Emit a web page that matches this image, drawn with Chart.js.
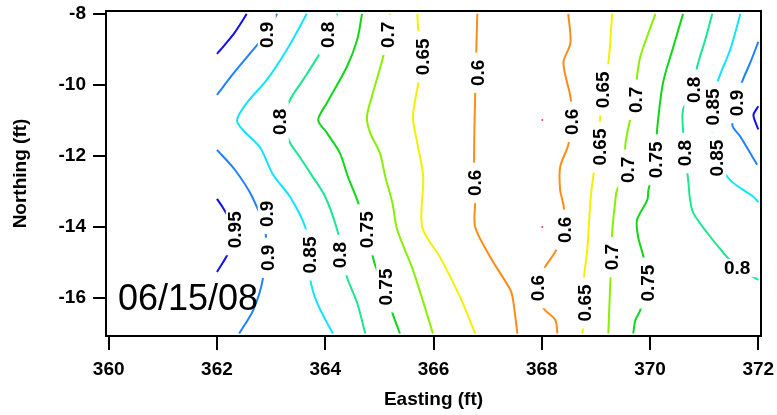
<!DOCTYPE html>
<html>
<head>
<meta charset="utf-8">
<script src="https://cdn.jsdelivr.net/npm/chart.js@4"></script>
<style>
  html, body { margin: 0; padding: 0; background: #fff; }
</style>
</head>
<body>
<canvas id="c" width="777" height="415"></canvas>
<script>
// axis ticks
const xTicks = [360, 362, 364, 366, 368, 370, 372];
const yTicks = [-8, -10, -12, -14, -16];

// contour lines, [easting, northing]
const c095a = [[362.0,-9.13],[362.15,-8.86],[362.33,-8.52],[362.55,-8.0]];
const c095b = [[362.0,-13.21],[362.11,-13.46],[362.25,-13.85],[362.30,-14.2],[362.25,-14.55],[362.18,-14.82],[362.0,-15.27]];
const c095c = [[372.0,-10.6],[371.98,-10.65],[371.91,-10.85],[371.98,-11.18],[372.0,-11.25]];
const c090a = [[362.0,-10.28],[362.33,-9.63],[362.67,-9.01],[362.92,-8.54],[363.11,-8.0]];
const c090b = [[362.0,-11.83],[362.33,-12.39],[362.65,-13.15],[362.90,-14.2],[362.85,-15.44],[362.67,-16.34],[362.41,-17.0]];
const c090c = [[372.0,-8.79],[371.85,-9.38],[371.70,-9.92],[371.61,-10.51],[371.52,-11.13],[371.67,-11.46],[371.98,-12.25]];
const c085a = [[363.66,-8.0],[363.29,-9.01],[362.92,-9.86],[362.55,-10.51],[362.37,-10.99],[362.48,-11.27],[362.79,-11.75],[363.04,-12.54],[363.35,-13.15],[363.63,-14.0],[363.72,-14.79],[363.72,-15.44],[363.85,-16.14],[364.14,-17.0]];
const c085b = [[371.67,-8.0],[371.48,-9.01],[371.26,-9.86],[371.15,-10.62],[371.15,-11.35],[371.24,-12.06],[371.48,-12.68],[371.91,-13.15],[372.0,-13.3]];
const c080a = [[364.22,-8.0],[364.09,-8.59],[363.85,-9.24],[363.59,-9.86],[363.35,-10.42],[363.22,-11.04],[363.35,-11.63],[363.53,-12.03],[363.77,-12.59],[364.0,-13.15],[364.22,-14.08],[364.31,-14.79],[364.40,-15.41],[364.59,-16.14],[364.74,-17.0]];
const c080b = [[371.15,-8.0],[371.02,-8.73],[370.87,-9.49],[370.80,-10.14],[370.61,-10.70],[370.61,-11.27],[370.65,-11.92],[370.71,-12.76],[370.74,-13.24],[370.80,-13.61],[371.06,-14.17],[371.39,-14.79],[371.61,-15.13],[372.0,-15.49]];
const c075a = [[364.68,-8.0],[364.59,-8.73],[364.40,-9.49],[364.03,-10.51],[363.87,-10.99],[364.03,-11.35],[364.27,-11.92],[364.42,-12.59],[364.59,-13.24],[364.77,-14.08],[364.92,-15.07],[365.11,-15.69],[365.24,-16.42],[365.38,-17.0]];
const c075b = [[370.61,-8.0],[370.43,-8.93],[370.24,-9.94],[370.13,-11.27],[370.10,-12.11],[369.97,-12.96],[369.95,-13.24],[369.76,-13.80],[369.78,-14.28],[369.88,-14.85],[369.95,-15.58],[369.82,-16.34],[369.73,-16.62],[369.69,-17.0]];
const c070a = [[365.20,-8.0],[365.15,-8.59],[365.07,-9.21],[364.88,-10.23],[364.77,-10.90],[364.83,-11.35],[365.01,-11.92],[365.11,-12.59],[365.24,-13.32],[365.33,-14.08],[365.62,-15.21],[365.99,-17.0]];
const c070b = [[370.10,-8.0],[369.97,-8.54],[369.82,-9.21],[369.76,-9.77],[369.73,-10.42],[369.63,-10.99],[369.54,-11.75],[369.58,-12.39],[369.39,-12.96],[369.36,-13.24],[369.30,-14.17],[369.30,-14.85],[369.27,-15.44],[369.23,-17.0]];
const c065a = [[365.70,-8.0],[365.72,-8.45],[365.78,-9.21],[365.72,-9.94],[365.62,-10.90],[365.70,-11.63],[365.81,-12.59],[365.79,-14.0],[366.12,-14.85],[366.49,-15.97],[366.77,-17.0]];
const c065b = [[369.30,-8.0],[369.23,-9.38],[369.12,-10.14],[369.08,-10.90],[369.04,-11.75],[368.95,-12.59],[368.90,-13.24],[368.84,-14.65],[368.77,-15.58],[368.80,-16.14],[368.75,-17.0]];
const c060a = [[366.81,-8.0],[366.79,-9.07],[366.79,-9.66],[366.77,-10.28],[366.75,-12.11],[366.77,-12.76],[366.77,-13.30],[366.77,-14.0],[367.05,-14.85],[367.42,-15.77],[367.47,-16.06],[367.55,-17.0]];
const c060b = [[368.49,-8.0],[368.53,-8.82],[368.40,-9.38],[368.53,-10.34],[368.56,-11.04],[368.49,-11.69],[368.34,-12.31],[368.34,-12.96],[368.40,-13.38],[368.43,-14.08],[368.25,-14.70],[368.06,-15.13],[367.92,-15.72],[368.03,-16.28],[368.25,-16.62],[368.29,-17.0]];
const c055 = [[368.01,-10.99],[368.01,-14.0]];

const contours = [
  [0.95, c095a], [0.95, c095b], [0.95, c095c],
  [0.9, c090a], [0.9, c090b], [0.9, c090c],
  [0.85, c085a], [0.85, c085b],
  [0.8, c080a], [0.8, c080b],
  [0.75, c075a], [0.75, c075b],
  [0.7, c070a], [0.7, c070b],
  [0.65, c065a], [0.65, c065b],
  [0.6, c060a], [0.6, c060b]
];

// inline level labels: [text, easting, northing]
const upLabels = [
  ['0.9', 362.92, -8.59], ['0.8', 364.05, -8.59], ['0.7', 365.16, -8.59],
  ['0.65', 365.81, -9.21], ['0.6', 366.81, -9.66], ['0.8', 363.16, -11.04],
  ['0.95', 362.33, -14.08], ['0.9', 362.92, -13.63], ['0.9', 362.94, -14.87],
  ['0.85', 363.72, -14.79], ['0.8', 364.27, -14.79], ['0.75', 364.77, -14.08],
  ['0.75', 365.11, -15.69], ['0.6', 366.77, -12.76], ['0.6', 368.56, -11.04],
  ['0.65', 369.12, -10.14], ['0.65', 369.08, -11.75], ['0.7', 369.73, -10.42],
  ['0.7', 369.58, -12.39], ['0.75', 370.10, -12.11], ['0.8', 370.80, -10.14],
  ['0.8', 370.65, -11.92], ['0.85', 371.15, -10.62], ['0.85', 371.24, -12.06],
  ['0.9', 371.61, -10.51], ['0.6', 368.43, -14.08], ['0.6', 367.92, -15.72],
  ['0.65', 368.80, -16.14], ['0.7', 369.30, -14.85], ['0.75', 369.95, -15.58]
];
const flatLabels = [['0.8', 371.61, -15.15]];
const dateText = '06/15/08';

const levelColor = {
  0.95: '#1010f0', 0.9: '#2080ff', 0.85: '#10e4ff', 0.8: '#18e890',
  0.75: '#10d818', 0.7: '#88f000', 0.65: '#f4f000', 0.6: '#ff8c18'
};

const datasets = contours.map(([lv, pts]) => ({
  label: String(lv),
  data: pts.map(p => ({ x: p[0], y: p[1] })),
  showLine: true,
  borderColor: levelColor[lv],
  borderWidth: 2,
  pointRadius: 0,
  tension: 0.3
}));
datasets.push({
  label: '0.55',
  data: c055.map(p => ({ x: p[0], y: p[1] })),
  showLine: false,
  pointRadius: 1,
  pointBorderWidth: 0,
  backgroundColor: '#ff3030'
});

const overlay = {
  id: 'overlay',
  afterDatasetsDraw(chart) {
    const { ctx, chartArea: a, scales: { x, y } } = chart;
    ctx.save();
    ctx.font = 'bold 19px Arial, "Liberation Sans", sans-serif';
    ctx.textAlign = 'center';
    ctx.textBaseline = 'middle';
    const put = (t, vx, vy, rot) => {
      const w = ctx.measureText(t).width;
      ctx.save();
      ctx.translate(x.getPixelForValue(vx), y.getPixelForValue(vy));
      ctx.rotate(rot);
      ctx.fillStyle = '#fff';
      ctx.fillRect(-w / 2 - 7, -9, w + 14, 18);
      ctx.fillStyle = '#000';
      ctx.fillText(t, 0, 1);
      ctx.restore();
    };
    upLabels.forEach(l => put(l[0], l[1], l[2], -Math.PI / 2));
    flatLabels.forEach(l => put(l[0], l[1], l[2], 0));

    ctx.font = '36px Arial, "Liberation Sans", sans-serif';
    ctx.textAlign = 'left';
    ctx.textBaseline = 'alphabetic';
    ctx.fillStyle = '#000';
    ctx.fillText(dateText, x.getPixelForValue(360.17), y.getPixelForValue(-16.34));

    ctx.strokeStyle = '#000';
    ctx.lineWidth = 2;
    ctx.strokeRect(a.left, a.top, a.right - a.left, a.bottom - a.top);
    ctx.restore();
  }
};

const tickFont = { family: 'Arial, "Liberation Sans", sans-serif', size: 19, weight: 'bold' };

new Chart(document.getElementById('c'), {
  type: 'scatter',
  data: { datasets },
  plugins: [overlay],
  options: {
    responsive: false,
    animation: false,
    layout: { padding: { top: 11, right: 16, left: 0, bottom: 0 } },
    plugins: { legend: { display: false }, tooltip: { enabled: false } },
    scales: {
      x: {
        type: 'linear',
        min: 359.95,
        max: 372.05,
        afterBuildTicks: s => { s.ticks = xTicks.map(v => ({ value: v })); },
        afterFit: s => { s.height = 79; s.paddingLeft = 0; s.paddingRight = 0; },
        ticks: { color: '#000', font: tickFont, padding: 8, maxRotation: 0 },
        grid: { drawOnChartArea: false, drawTicks: true, tickLength: 14, color: '#000', lineWidth: 2 },
        border: { display: true, color: '#000', width: 2 },
        title: { display: true, text: 'Easting (ft)', color: '#000', font: tickFont, padding: { top: 0, bottom: 4 } }
      },
      y: {
        type: 'linear',
        min: -17.07,
        max: -7.92,
        afterBuildTicks: s => { s.ticks = yTicks.map(v => ({ value: v })); },
        afterFit: s => { s.width = 106; s.paddingTop = 0; s.paddingBottom = 0; },
        ticks: { color: '#000', font: tickFont, padding: 7 },
        grid: { drawOnChartArea: false, drawTicks: true, tickLength: 13, color: '#000', lineWidth: 2 },
        border: { display: true, color: '#000', width: 2 },
        title: { display: true, text: 'Northing (ft)', color: '#000', font: tickFont, padding: { top: 9, bottom: 0 } }
      }
    }
  }
});
</script>
</body>
</html>
